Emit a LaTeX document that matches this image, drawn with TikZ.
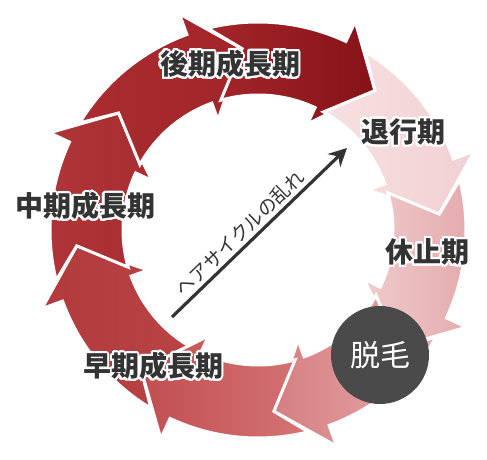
\documentclass[tikz,border=0pt]{standalone}
\usepackage{fontspec}
\usepackage{contour}
\usetikzlibrary{arrows.meta}
\newfontfamily\jp{Noto Sans CJK JP}
\contourlength{2pt}
\contournumber{32}
\definecolor{textgray}{HTML}{333333}
\definecolor{circlegray}{HTML}{4A4A4A}
\definecolor{segGa}{HTML}{B13A3D}\definecolor{segGb}{HTML}{B94345}
\definecolor{segHa}{HTML}{AE3539}\definecolor{segHb}{HTML}{A92D31}
\definecolor{segAa}{HTML}{A82C30}\definecolor{segAb}{HTML}{A22529}
\definecolor{segBa}{HTML}{A4262A}\definecolor{segBb}{HTML}{861218}
\definecolor{segCa}{HTML}{F7E1E2}\definecolor{segCb}{HTML}{F1D0D2}
\definecolor{segDa}{HTML}{F0CBCD}\definecolor{segDb}{HTML}{E4AAAC}
\definecolor{segEa}{HTML}{D57F81}\definecolor{segEb}{HTML}{E6ABAD}
\definecolor{segFa}{HTML}{C24E50}\definecolor{segFb}{HTML}{D47476}
\tikzset{
  segment/.style={draw=white, line width=3pt, line join=miter},
  phase/.style={font=\jp\bfseries\fontsize{28}{28}\selectfont, text=textgray, inner sep=0pt},
  trend/.style={draw=textgray, line width=3.2pt, -{Stealth[length=18pt,width=18pt]}},
}
\begin{document}
\begin{tikzpicture}[x=1pt,y=1pt]
     \useasboundingbox (0,0) rectangle (487,460);
     %リング
     \begin{scope}[shift={(258,230)}]
     \foreach \t/\ca/\cb in {230/segGa/segGb,185/segHa/segHb,140/segAa/segAb,95/segBa/segBb,
                             50/segCa/segCb,5/segDa/segDb,-40/segEa/segEb,-85/segFa/segFb}  {
     	\path[segment,left color=\ca,right color=\cb] (\t+9:208)
     	arc [start angle=\t+9, end angle=\t-30, radius=208] -- (\t-30:230) -- (\t-45:182)
     	-- (\t-30:117) -- (\t-30:135)
     	arc [start angle=\t-30, end angle=\t+11, radius=135] -- (\t:182) -- cycle;
     }
     \end{scope}
     
     \node[phase] (late) at (230,395) {\contour{white}{後期成長期}};
     \node[phase] (regress) at (403,327) {\contour{white}{退行期}};
     \node[phase] (rest) at (427,207) {\contour{white}{休止期}};
     \node[phase] (middle) at (85,253) {\contour{white}{中期成長期}};
     \node[phase] (early) at (153,93) {\contour{white}{早期成長期}};
     
     %脱毛
     \node[circle,fill=circlegray,minimum size=98pt,inner sep=0pt,text=white,
           font=\jp\fontsize{30}{30}\selectfont] (shed) at (380,105) {脱毛};
     
     %中央の矢印
     \coordinate (from) at (172,143);
     \coordinate (to) at (347,312);
     \draw[trend] (from) -- node[pos=0.44,sloped,above=3pt,inner sep=0pt,text=textgray,
           font=\jp\fontsize{19}{19}\selectfont] (disorder) {ヘアサイクルの乱れ} (to);
\end{tikzpicture}
\end{document}
